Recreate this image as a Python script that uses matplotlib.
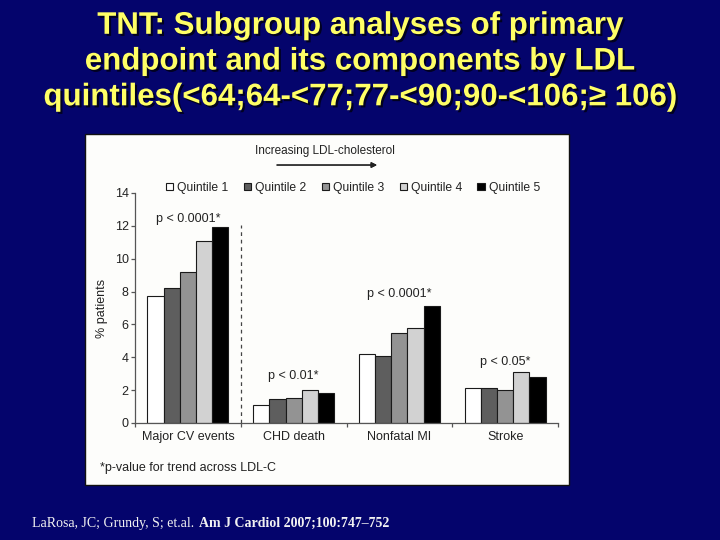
import matplotlib.pyplot as plt
import matplotlib.patheffects as pe
from matplotlib.patches import Rectangle
from matplotlib import font_manager

# data
categories = ["Major CV events", "CHD death", "Nonfatal MI", "Stroke"]
quintiles = ["Quintile 1", "Quintile 2", "Quintile 3", "Quintile 4", "Quintile 5"]
q1 = [7.7, 1.1, 4.2, 2.1]
q2 = [8.2, 1.45, 4.1, 2.1]
q3 = [9.2, 1.5, 5.45, 2.0]
q4 = [11.1, 2.0, 5.8, 3.1]
q5 = [11.9, 1.82, 7.1, 2.8]
p_labels = ["p < 0.0001*", "p < 0.01*", "p < 0.0001*", "p < 0.05*"]
p_heights = [12.4, 2.88, 7.83, 3.69]
yticks = [0, 2, 4, 6, 8, 10, 12, 14]

series = [q1, q2, q3, q4, q5]
bar_colors = ["#ffffff", "#5e5e5e", "#939393", "#d2d2d2", "#000000"]

bg = "#04046c"
ink = "#222222"

installed = {f.name for f in font_manager.fontManager.ttflist}
sans = "Liberation Sans" if "Liberation Sans" in installed else "DejaVu Sans"
serif = "Liberation Serif" if "Liberation Serif" in installed else "DejaVu Serif"
plt.rcParams["font.family"] = sans

fig = plt.figure(figsize=(7.2, 5.4), dpi=100, facecolor=bg)

# white panel behind the chart
fig.patches.append(Rectangle((0.118, 0.1019), 0.672, 0.65, transform=fig.transFigure,
                             facecolor="#fdfdfb", edgecolor="#111111", linewidth=1, zorder=-1))

# title
fig.text(0.5, 0.886,
         "TNT: Subgroup analyses of primary\n"
         "endpoint and its components by LDL\n"
         "quintiles(<64;64-<77;77-<90;90-<106;\u2265 106)",
         ha="center", va="center", color="#ffff66", fontsize=22.5, fontweight="bold",
         linespacing=1.25,
         path_effects=[pe.withSimplePatchShadow(offset=(1.5, -1.5), shadow_rgbFace="black", alpha=0.7)])

ax = fig.add_axes([0.1875, 0.2167, 0.5875, 0.4259])
ax.set_facecolor("none")
ax.set_zorder(1)

w = 0.153
for i, vals in enumerate(series):
    xs = [c + (i - 2) * w for c in range(len(categories))]
    ax.bar(xs, vals, width=w, color=bar_colors[i], edgecolor="#1a1a1a", linewidth=0.8,
           label=quintiles[i], zorder=2)

ax.vlines(0.5, 0, 12.05, colors="#444444", linestyles=(0, (3, 3)), linewidth=0.9)

for i, txt in enumerate(p_labels):
    ax.text(i, p_heights[i], txt, ha="center", va="center", fontsize=9, color=ink)

ax.set_xlim(-0.5, 3.5)
ax.set_ylim(0, 14)
ax.set_yticks(yticks)
ax.set_xticks(range(len(categories)))
ax.set_xticklabels(categories)
ax.set_xticks([-0.5, 0.5, 1.5, 2.5, 3.5], minor=True)
ax.tick_params(axis="x", which="major", length=0, pad=6, labelsize=9, labelcolor=ink)
ax.tick_params(axis="x", which="minor", length=3, width=0.9, color="#555555", direction="out")
ax.tick_params(axis="y", length=3, width=0.9, color="#555555", pad=1.5, labelsize=9, labelcolor=ink)
for side in ["top", "right"]:
    ax.spines[side].set_visible(False)
for side in ["left", "bottom"]:
    ax.spines[side].set_color("#555555")
    ax.spines[side].set_linewidth(0.9)

fig.text(0.1417, 0.428, "% patients", rotation=90, ha="center", va="center", fontsize=9, color=ink)

ax.legend(loc="center left", bbox_to_anchor=(0.2306, 0.652), bbox_transform=fig.transFigure,
          ncol=5, frameon=False, fontsize=8.7, borderpad=0, borderaxespad=0,
          handlelength=0.6, handleheight=0.6, handletextpad=0.33, columnspacing=1.27,
          labelcolor=ink)

# arrow over the legend
fig.text(0.4514, 0.7204, "Increasing LDL-cholesterol", ha="center", va="center", fontsize=8.5, color=ink)
fig.add_artist(plt.annotate("", xy=(0.5236, 0.6944), xytext=(0.3847, 0.6944),
                            xycoords="figure fraction", textcoords="figure fraction",
                            arrowprops=dict(arrowstyle="-|>", color="#222222", lw=0.9,
                                            mutation_scale=8, shrinkA=0, shrinkB=0)))

fig.text(0.1389, 0.1333, "*p-value for trend across LDL-C", ha="left", va="center", fontsize=9, color=ink)

# citation
fig.text(0.0444, 0.031, "LaRosa, JC; Grundy, S; et.al.", ha="left", va="center",
         fontsize=10, color="#f2f2f2", family=serif)
fig.text(0.2764, 0.031, "Am J Cardiol 2007;100:747\u2013752", ha="left", va="center",
         fontsize=10, color="#f2f2f2", family=serif, fontweight="bold")

fig.savefig("out.png", dpi=100, facecolor=bg)
